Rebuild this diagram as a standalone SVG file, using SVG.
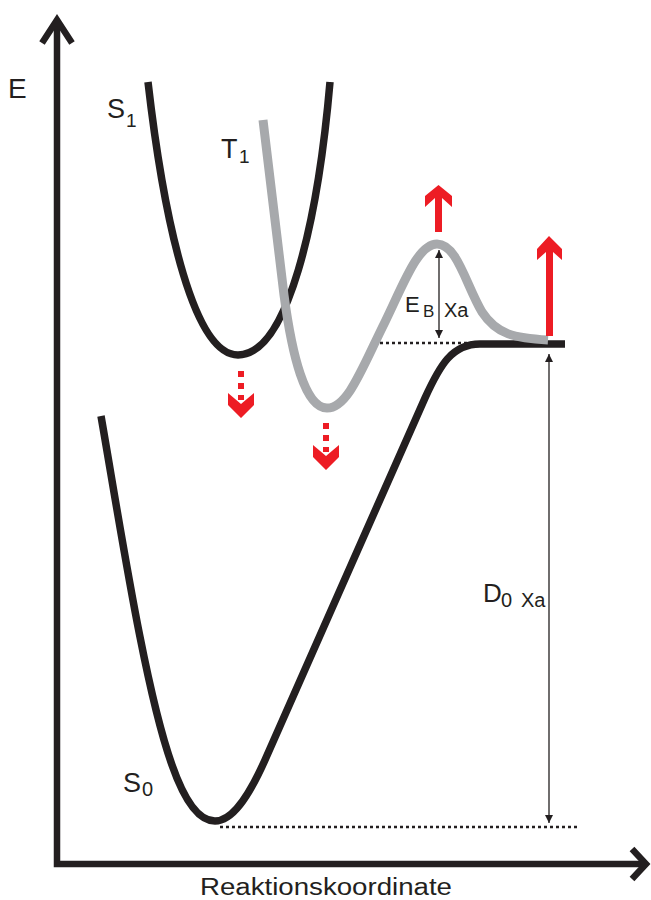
<svg xmlns="http://www.w3.org/2000/svg" width="651" height="900" viewBox="0 0 651 900">
<defs>
<style>
.ax{fill:none;stroke:#231f20;stroke-width:6.5;stroke-linejoin:miter;stroke-linecap:butt}
.blk{fill:none;stroke:#231f20;stroke-width:7.5;stroke-linejoin:round;stroke-linecap:butt}
.gry{fill:none;stroke:#a7a9ac;stroke-width:9;stroke-linejoin:round;stroke-linecap:butt}
.dot{fill:none;stroke:#231f20;stroke-width:2.5;stroke-dasharray:3 3}
.thin{fill:none;stroke:#231f20;stroke-width:1.3}
.red{fill:#ed1c24}
text{font-family:"Liberation Sans",Arial,sans-serif;fill:#231f20}
</style>
<marker id="ah" viewBox="0 0 10 10" refX="10" refY="5" markerWidth="8" markerHeight="8" markerUnits="userSpaceOnUse" orient="auto">
<path d="M0,0 L10,5 L0,10 Z" fill="#231f20"/>
</marker>
<g id="dotarrow">
<rect x="238" y="371" width="6" height="6" class="red"/>
<rect x="238" y="383" width="6" height="6" class="red"/>
<path class="red" d="M228,393 L241,404 L254,393 L254,405 L241,418 L228,405 Z"/>
<rect x="238" y="395" width="6" height="5" class="red"/>
</g>
</defs>

<g id="axes">
<polyline class="ax" points="57,20 57,864 646,864"/>
<polyline class="ax" points="42,43 57,20 72,43"/>
<polyline class="ax" points="632,849 646,864 632,879"/>
</g>

<g id="S0-curve">
<path class="blk" d="M101,416 C120,525 145,690 172,765 C186,805 200,821 215,821 C232,821 248,798 265,760 C300,680 380,500 425,398 C440,365 452,344 480,344 L565,344"/>
</g>

<g id="S1-curve">
<path class="blk" d="M148,82 C165,230 195,355 238,355 C288,355 318,220 330,82"/>
</g>

<g id="T1-curve">
<path class="gry" d="M263,120 L284,295 C292,355 305,408 327,408 C348,408 362,368 385,322 C404,283 418,244 437,244 C457,244 466,285 482,312 C497,335 515,338 548,340"/>
</g>

<g id="connectors">
<line class="dot" x1="380" y1="343" x2="472" y2="343"/>
<line class="dot" x1="220" y1="827" x2="580" y2="827"/>
<line class="thin" x1="439" y1="258" x2="439" y2="250" marker-end="url(#ah)"/>
<line class="thin" x1="439" y1="258" x2="439" y2="338" marker-end="url(#ah)"/>
<line class="thin" x1="549" y1="590" x2="549" y2="354" marker-end="url(#ah)"/>
<line class="thin" x1="549" y1="590" x2="549" y2="823" marker-end="url(#ah)"/>
</g>

<g id="red-arrows">
<polygon class="red" points="438.5,185 452,196 452,207 442,198 442,232 435,232 435,198 425,207 425,196"/>
<polygon class="red" points="549,236 562,249 562,260 553,252 553,336 546,336 546,252 537,260 537,249"/>
<use href="#dotarrow"/>
<use href="#dotarrow" transform="translate(85,52)"/>
</g>

<g id="labels">
<text x="8" y="98" font-size="28">E</text>
<text x="107" y="118" font-size="27">S</text>
<text x="126" y="127" font-size="19">1</text>
<text x="221" y="158" font-size="27">T</text>
<text x="239" y="163" font-size="19">1</text>
<text x="405" y="312" font-size="22">E</text>
<text x="423" y="317" font-size="17">B</text>
<text x="444" y="317" font-size="20">Xa</text>
<text x="483" y="602" font-size="26">D</text>
<text x="501" y="607" font-size="20">0</text>
<text x="521" y="607" font-size="20">Xa</text>
<text x="123" y="792" font-size="27">S</text>
<text x="142" y="796" font-size="20">0</text>
<text x="200" y="895" font-size="23" textLength="252" lengthAdjust="spacingAndGlyphs">Reaktionskoordinate</text>
</g>
</svg>
